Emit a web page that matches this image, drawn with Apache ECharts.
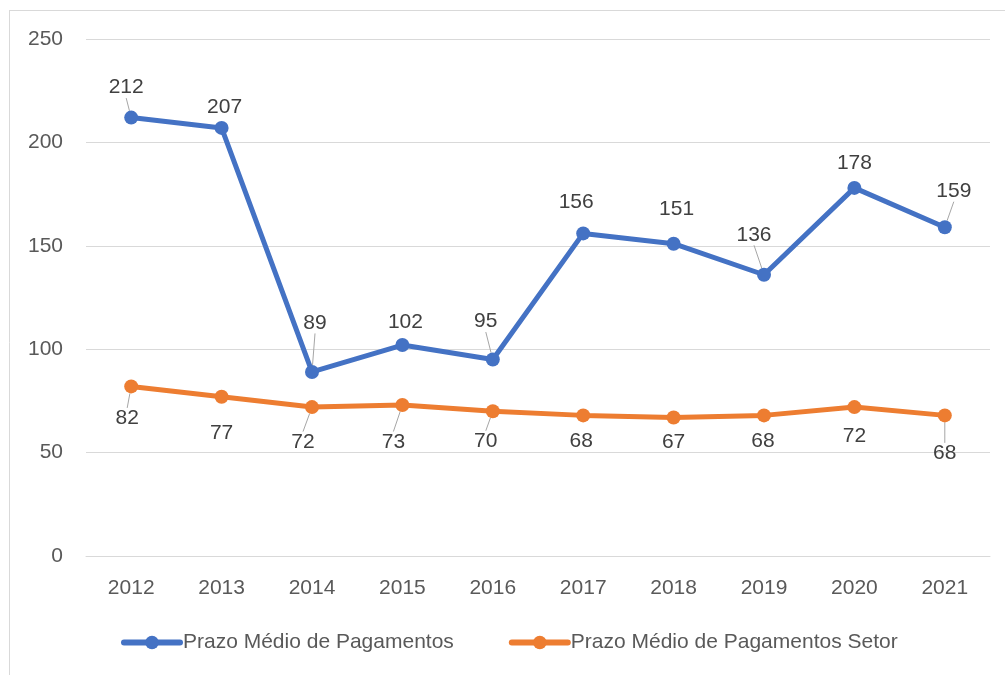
<!DOCTYPE html>
<html>
<head>
<meta charset="utf-8">
<script src="https://cdn.jsdelivr.net/npm/echarts@6/dist/echarts.min.js"></script>
<style>
  html, body { margin: 0; padding: 0; background: #fff; }
  #chart { width: 1005px; height: 675px; }
</style>
</head>
<body>
<div id="chart"></div>
<script>
const years = ["2012", "2013", "2014", "2015", "2016", "2017", "2018", "2019", "2020", "2021"]
const prazoMedio = [212, 207, 89, 102, 95, 156, 151, 136, 178, 159]
const prazoMedioSetor = [82, 77, 72, 73, 70, 68, 67, 68, 72, 68]

// where each data label sits, relative to its point (px), and whether a leader line is drawn
const blueLabelShift = [[-5, -30], [3, -21], [3, -49], [3, -23], [-7, -38], [-7, -31], [3, -35], [-10, -40], [0, -25], [9, -36]]
const blueLeader = [true, false, true, false, true, false, false, true, false, true]
const orangeLabelShift = [[-4, 32], [0, 36], [-9, 35], [-9, 37], [-7, 30], [-2, 26], [0, 25], [-1, 26], [0, 29], [0, 38]]
const orangeLeader = [true, false, true, true, true, false, false, false, false, true]

const font = "'Liberation Sans', Arial, sans-serif"

const chart = echarts.init(document.getElementById("chart"))

const shiftLayout = (shifts) => (params) => {
    const s = shifts[params.dataIndex]
    const r = params.rect
    return {
        x: r.x + r.width / 2 + s[0],
        y: r.y + r.height / 2 + s[1],
        align: "center",
        verticalAlign: "middle"
    }
}

const makeSeries = (name, values, color, shifts, leaders) => ({
    name,
    type: "line",
    data: values.map((v, i) => ({ value: v, labelLine: { show: leaders[i] } })),
    symbol: "circle",
    symbolSize: 14,
    lineStyle: { color, width: 5 },
    itemStyle: { color },
    label: {
        show: true,
        position: "top",
        color: "#404040",
        fontSize: 21,
        fontFamily: font
    },
    labelLine: { show: true, lineStyle: { color: "#a6a6a6", width: 1 } },
    labelLayout: shiftLayout(shifts),
    animation: false
})

chart.setOption({
    backgroundColor: "#fff",
    animation: false,
    grid: { left: 86, right: 15, top: 39, bottom: 119 },
    xAxis: {
        type: "category",
        data: years,
        boundaryGap: true,
        axisLine: { lineStyle: { color: "#d9d9d9", width: 1 } },
        axisTick: { show: false },
        axisLabel: { color: "#595959", fontSize: 21, fontFamily: font, margin: 22 }
    },
    yAxis: {
        type: "value",
        min: 0,
        max: 250,
        interval: 50,
        axisLine: { show: false },
        axisTick: { show: false },
        splitLine: { lineStyle: { color: "#d9d9d9", width: 1 } },
        axisLabel: { color: "#595959", fontSize: 21, fontFamily: font, margin: 23 }
    },
    legend: {
        bottom: 22,
        left: 121,
        padding: 0,
        itemWidth: 56,
        itemHeight: 17,
        itemGap: 55,
        lineStyle: { width: 6, cap: "round" },
        textStyle: { color: "#595959", fontSize: 21, fontFamily: font, padding: [0, 0, 0, -2] },
        data: ["Prazo Médio de Pagamentos", "Prazo Médio de Pagamentos Setor"]
    },
    graphic: [
        { type: "line", shape: { x1: 9.5, y1: 10, x2: 9.5, y2: 675 }, style: { stroke: "#d9d9d9", lineWidth: 1 } },
        { type: "line", shape: { x1: 9, y1: 10.5, x2: 1005, y2: 10.5 }, style: { stroke: "#d9d9d9", lineWidth: 1 } }
    ],
    series: [
        makeSeries("Prazo Médio de Pagamentos", prazoMedio, "#4472c4", blueLabelShift, blueLeader),
        makeSeries("Prazo Médio de Pagamentos Setor", prazoMedioSetor, "#ed7d31", orangeLabelShift, orangeLeader)
    ]
})

window.addEventListener("resize", () => chart.resize())
</script>
</body>
</html>
